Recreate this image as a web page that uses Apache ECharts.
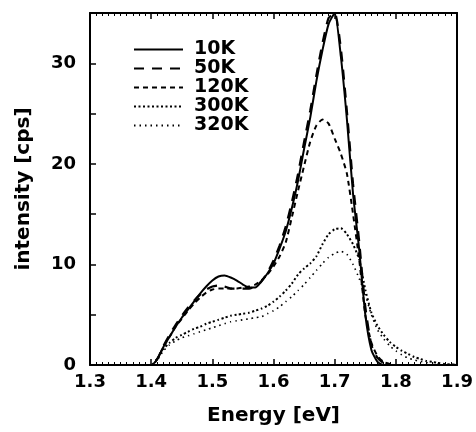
<!DOCTYPE html>
<html>
<head>
<meta charset="utf-8">
<script src="https://cdn.jsdelivr.net/npm/echarts@6/dist/echarts.min.js"></script>
<style>
html,body{margin:0;padding:0;background:#fff;}
#chart{width:476px;height:432px;}
</style>
</head>
<body>
<div id="chart"></div>
<script>
// Energy grid (eV)
const energy = [1.38,1.39,1.40,1.41,1.42,1.43,1.44,1.45,1.46,1.47,1.48,1.49,1.50,1.51,1.52,1.53,1.54,1.55,1.56,1.57,1.58,1.59,1.60,1.61,1.62,1.63,1.64,1.65,1.66,1.67,1.68,1.69,1.70,1.71,1.72,1.73,1.74,1.75,1.76,1.77,1.78,1.79,1.80,1.81,1.82,1.83,1.84,1.85,1.86,1.87,1.88,1.89,1.90];

const i10K  = [0,0,0,0.6,1.8,2.8,3.8,4.7,5.5,6.3,7.1,7.8,8.4,8.8,8.9,8.7,8.4,8.0,7.7,7.7,8.3,9.1,10.1,11.6,13.3,15.6,18.3,21.5,24.6,28.2,31.3,33.9,35.0,30.7,24.4,17.0,11.5,5.0,1.5,0.3,0,0,0,0,0,0,0,0,0,0,0,0,0];
const i50K  = [0,0,0,0.6,1.9,3.0,4.0,4.9,5.7,6.4,7.0,7.5,7.8,7.9,7.8,7.6,7.6,7.6,7.6,7.8,8.3,9.2,10.4,11.9,13.8,16.2,19.0,22.2,25.3,28.8,32.0,34.5,35.0,31.5,25.2,18.0,12.3,5.8,2.0,0.7,0.2,0,0,0,0,0,0,0,0,0,0,0,0];
const i120K = [0,0,0,0.6,1.8,2.8,3.8,4.6,5.4,6.1,6.7,7.2,7.5,7.6,7.6,7.6,7.6,7.7,7.8,8.0,8.4,9.0,9.8,10.8,12.2,14.7,17.3,19.8,22.2,23.8,24.4,24.0,22.5,21.0,19.0,15.0,10.5,5.0,2.2,0.9,0.3,0.1,0,0,0,0,0,0,0,0,0,0,0];
const i300K = [0,0,0,0.6,1.6,2.2,2.7,3.0,3.3,3.6,3.8,4.1,4.3,4.5,4.7,4.9,5.0,5.1,5.2,5.4,5.6,5.9,6.3,6.8,7.4,8.1,9.0,9.6,10.1,10.8,12.0,13.0,13.5,13.6,13.0,12.0,10.5,7.5,5.2,3.9,3.0,2.3,1.8,1.4,1.1,0.8,0.6,0.4,0.3,0.2,0.1,0.05,0.05];
const i320K = [0,0,0,0.5,1.4,2.0,2.4,2.7,2.9,3.1,3.3,3.5,3.7,3.9,4.1,4.3,4.4,4.5,4.6,4.7,4.8,5.1,5.4,5.8,6.3,6.8,7.4,8.0,8.7,9.4,10.1,10.7,11.1,11.3,11.0,10.0,8.6,7.0,5.0,3.5,2.6,1.9,1.4,1.0,0.7,0.5,0.35,0.25,0.15,0.1,0.05,0.05,0.05];

const seriesNames = ['10K','50K','120K','300K','320K'];
const seriesValues = [i10K, i50K, i120K, i300K, i320K];
const xTicks = [1.3,1.4,1.5,1.6,1.7,1.8,1.9];
const yTicks = [0,10,20,30];

const lineTypes = ['solid',[10,8],[5,4],[2,2.5],[1.5,4]];
const lineWidths = [2,2.2,2,2,1.6];

const FONT = 'DejaVu Sans';
const chart = echarts.init(document.getElementById('chart'), null, {renderer:'canvas'});

const series = seriesNames.map((name, k) => ({
  name: name,
  type: 'line',
  xAxisIndex: 0,
  yAxisIndex: 0,
  symbol: 'none',
  smooth: 0.2,
  data: energy.map((e, i) => [e, seriesValues[k][i]]),
  lineStyle: {color:'#000', width: lineWidths[k], type: lineTypes[k]},
  itemStyle: {color:'#000'},
  z: 5 - k
}));

const axisCommonX = {
  type: 'value', min: 1.3, max: 1.9, interval: 0.1,
  axisLine: {show:true, onZero:false, lineStyle:{color:'#000', width:2}},
  axisTick: {show:true, inside:true, length:6, lineStyle:{color:'#000', width:1.5}},
  minorTick: {show:true, splitNumber:10, length:3, lineStyle:{color:'#000', width:1}},
  splitLine: {show:false}, minorSplitLine: {show:false}
};

chart.setOption({
  animation: false,
  backgroundColor: '#fff',
  textStyle: {fontFamily: FONT, color:'#000'},
  grid: {left: 90, right: 17, top: 13, bottom: 67, containLabel: false},
  legend: {
    data: seriesNames,
    orient: 'vertical',
    left: 128, top: 35,
    itemWidth: 49, itemHeight: 19, itemGap: 0,
    itemStyle: {opacity: 0},
    textStyle: {fontFamily: FONT, fontWeight:'bold', fontSize: 19, lineHeight: 19, color:'#000', padding:[0,0,0,6]},
    selectedMode: false
  },
  xAxis: [
    Object.assign({}, axisCommonX, {
      position: 'bottom',
      name: 'Energy [eV]', nameLocation: 'middle', nameGap: 41,
      nameTextStyle: {fontFamily: FONT, fontWeight:'bold', fontSize: 20, color:'#000'},
      axisLabel: {show:true, margin: 8, fontFamily: FONT, fontWeight:'bold', fontSize: 18, color:'#000',
        formatter: v => xTicks.some(t => Math.abs(t - v) < 1e-6) ? v.toFixed(1) : ''}
    }),
    Object.assign({}, axisCommonX, {
      position: 'top',
      axisLabel: {show:false}
    })
  ],
  yAxis: [
    {
      type: 'value', min: 0, max: 35, interval: 5, position: 'left',
      name: 'intensity [cps]', nameLocation: 'middle', nameGap: 56, nameRotate: 90,
      nameTextStyle: {fontFamily: FONT, fontWeight:'bold', fontSize: 20, color:'#000'},
      axisLine: {show:true, onZero:false, lineStyle:{color:'#000', width:2}},
      axisTick: {show:true, inside:true, length:6, lineStyle:{color:'#000', width:1.5}},
      splitLine: {show:false},
      axisLabel: {show:true, margin: 14, fontFamily: FONT, fontWeight:'bold', fontSize: 18, color:'#000',
        formatter: v => yTicks.indexOf(v) >= 0 ? String(v) : ''}
    },
    {
      type: 'value', min: 0, max: 35, position: 'right',
      axisLine: {show:true, onZero:false, lineStyle:{color:'#000', width:2}},
      axisTick: {show:false}, axisLabel: {show:false}, splitLine: {show:false}
    }
  ],
  series: series
});
</script>
</body>
</html>
